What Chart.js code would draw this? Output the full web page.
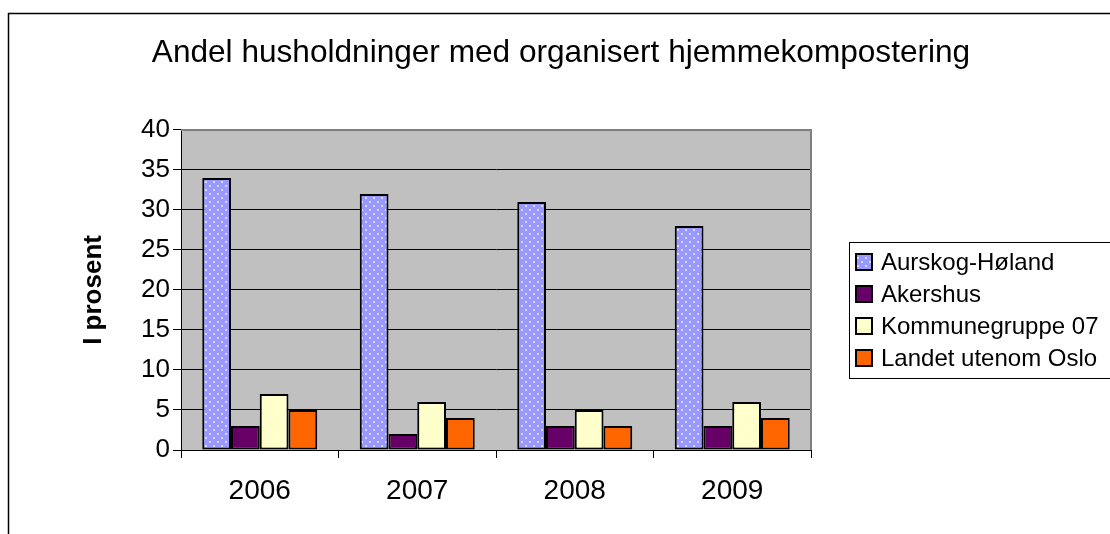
<!DOCTYPE html>
<html>
<head>
<meta charset="utf-8">
<script src="https://cdn.jsdelivr.net/npm/chart.js@4.4.0/dist/chart.umd.min.js"></script>
<style>
  html, body { margin: 0; padding: 0; background: #fff; }
  #wrap { width: 1110px; height: 534px; position: relative; }
</style>
</head>
<body>
<div id="wrap"><canvas id="grafico"></canvas></div>
<script>
// Data lest av fra figuren
const years = ['2006', '2007', '2008', '2009'];
const aurskogHoland = [34, 32, 31, 28];
const akershus = [3, 2, 3, 3];
const kommunegruppe07 = [7, 6, 5, 6];
const landetUtenomOslo = [5, 4, 3, 4];
const yTicks = [0, 5, 10, 15, 20, 25, 30, 35, 40];

const FONT = 'Arial, "Liberation Sans", sans-serif';

// Prikkete mønster for Aurskog-Høland (Excel-stil)
function lagMonster() {
    const c = document.createElement('canvas');
    c.width = 8; c.height = 8;
    const g = c.getContext('2d');
    g.fillStyle = '#9999FF';
    g.fillRect(0, 0, 8, 8);
    g.fillStyle = '#D8D8FF';
    g.fillRect(1, 1, 2, 2);
    g.fillRect(5, 5, 2, 2);
    return g.createPattern(c, 'repeat');
}
const monster = lagMonster();

// Bakgrunn i plottområdet + rammer
const plotBakgrunn = {
    id: 'plotBakgrunn',
    beforeDraw(chart) {
        const { ctx, chartArea: a } = chart;
        ctx.save();
        ctx.fillStyle = '#C0C0C0';
        ctx.fillRect(a.left, a.top, a.right - a.left, a.bottom - a.top);
        ctx.restore();
    },
    afterDraw(chart) {
        const { ctx, chartArea: a } = chart;
        ctx.save();
        // grå kant oppe og til høyre
        ctx.strokeStyle = '#808080';
        ctx.lineWidth = 2;
        ctx.beginPath();
        ctx.moveTo(a.left, a.top);
        ctx.lineTo(a.right, a.top);
        ctx.lineTo(a.right, a.bottom);
        ctx.stroke();
        // ytre ramme
        ctx.strokeStyle = '#000';
        ctx.lineWidth = 1.5;
        ctx.beginPath();
        ctx.moveTo(8.5, 534);
        ctx.lineTo(8.5, 13.5);
        ctx.lineTo(1110, 13.5);
        ctx.stroke();
        ctx.restore();
    }
};

// Egen legend med ramme til høyre
const egenLegend = {
    id: 'egenLegend',
    afterDraw(chart) {
        const { ctx } = chart;
        const x0 = 849, y0 = 242, radH = 32;
        ctx.save();
        ctx.strokeStyle = '#000';
        ctx.lineWidth = 1;
        ctx.strokeRect(x0 + 0.5, y0 + 0.5, 300, 136);
        ctx.font = '24px ' + FONT;
        ctx.textBaseline = 'middle';
        chart.data.datasets.forEach((ds, i) => {
            const cy = y0 + 20 + i * radH;
            ctx.fillStyle = ds.backgroundColor;
            ctx.fillRect(856, cy - 8, 16, 16);
            ctx.strokeStyle = '#000';
            ctx.lineWidth = 2;
            ctx.strokeRect(856, cy - 8, 16, 16);
            ctx.fillStyle = '#000';
            ctx.fillText(ds.label, 881, cy + 1);
        });
        ctx.restore();
    }
};

const felles = {
    borderColor: '#000',
    borderWidth: 2,
    borderSkipped: false
};

new Chart(document.getElementById('grafico'), {
    type: 'bar',
    data: {
        labels: years,
        datasets: [
            { label: 'Aurskog-Høland', data: aurskogHoland, backgroundColor: monster, ...felles },
            { label: 'Akershus', data: akershus, backgroundColor: '#660066', ...felles },
            { label: 'Kommunegruppe 07', data: kommunegruppe07, backgroundColor: '#FFFFCC', ...felles },
            { label: 'Landet utenom Oslo', data: landetUtenomOslo, backgroundColor: '#FF6600', ...felles }
        ]
    },
    options: {
        responsive: true,
        maintainAspectRatio: false,
        animation: false,
        layout: { padding: { left: 12, right: 0, top: 0, bottom: 0 } },
        datasets: {
            bar: { categoryPercentage: 0.73, barPercentage: 1.0 }
        },
        plugins: {
            legend: { display: false },
            tooltip: { enabled: false },
            title: {
                display: true,
                text: 'Andel husholdninger med organisert hjemmekompostering',
                color: '#000',
                font: { family: FONT, size: 31.6, weight: 'normal' },
                padding: { top: 34, bottom: 58 }
            }
        },
        scales: {
            x: {
                grid: {
                    display: true,
                    drawOnChartArea: false,
                    drawTicks: true,
                    tickLength: 8,
                    color: '#000',
                    lineWidth: 1
                },
                border: { display: true, color: '#000', width: 1 },
                ticks: {
                    color: '#000',
                    font: { family: FONT, size: 28 },
                    padding: 16
                },
                afterFit(scale) { scale.height = 84; }
            },
            y: {
                min: 0,
                max: 40,
                afterBuildTicks(scale) {
                    scale.ticks = yTicks.map(v => ({ value: v }));
                },
                grid: {
                    color: '#000',
                    lineWidth: 1,
                    drawTicks: true,
                    tickLength: 8
                },
                border: { display: true, color: '#000', width: 1 },
                ticks: {
                    color: '#000',
                    font: { family: FONT, size: 26 },
                    padding: 3
                },
                title: {
                    display: true,
                    text: 'I prosent',
                    color: '#000',
                    font: { family: FONT, size: 26, weight: 'bold' },
                    padding: { top: 66, bottom: 0 }
                },
                afterFit(scale) { scale.width = 169; }
            },
            // usynlig akse som holder plass til legenden til høyre
            plass: {
                type: 'linear',
                position: 'right',
                display: true,
                grid: { display: false, drawTicks: false },
                border: { display: false },
                ticks: { display: false },
                afterFit(scale) { scale.width = 299; }
            }
        }
    },
    plugins: [plotBakgrunn, egenLegend]
});
</script>
</body>
</html>
